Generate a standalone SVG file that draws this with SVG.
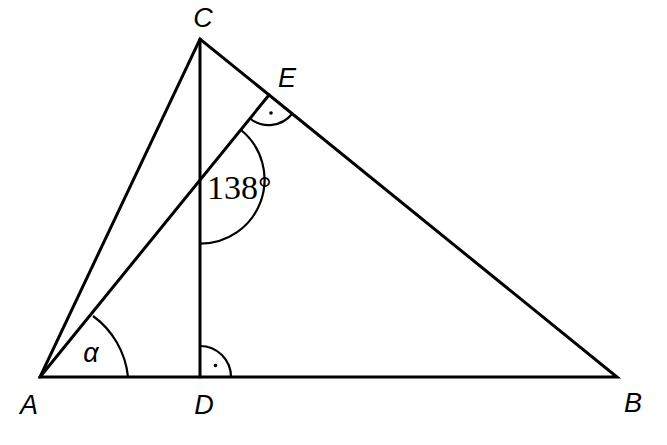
<svg xmlns="http://www.w3.org/2000/svg" width="667" height="445" viewBox="0 0 667 445">
<style>
.ln{stroke:#000;stroke-width:3;fill:none;stroke-linecap:round;stroke-linejoin:miter}
.arc{stroke:#000;stroke-width:2.2;fill:none}
.lbl{font-family:"Liberation Sans",Arial,sans-serif;font-style:italic;font-size:27px;fill:#000}
.num{font-family:"Liberation Serif","DejaVu Serif",serif;font-size:34px;fill:#000}
</style>
<rect width="667" height="445" fill="#fff"/>
<g id="connectors">
<path class="ln" d="M40 377 L617 377 L200 39 Z"/>
<line class="ln" x1="200" y1="39" x2="200" y2="377"/>
<line class="ln" x1="40" y1="377" x2="269" y2="95"/>
</g>
<g id="angles">
<path class="arc" d="M93 316 A86 86 0 0 1 128 377"/>
<path class="arc" d="M241 130 A64 64 0 0 1 200 243.6"/>
<path class="arc" d="M250 118.5 A30 30 0 0 0 292 114"/>
<path class="arc" d="M200 346 A31 31 0 0 1 231 377"/>
<circle cx="271" cy="113" r="1.8" fill="#000"/>
<circle cx="215.5" cy="365.5" r="1.8" fill="#000"/>
</g>
<g id="labels">
<text class="lbl" x="203" y="27" text-anchor="middle">C</text>
<text class="lbl" x="287" y="87" text-anchor="middle">E</text>
<text class="lbl" x="29" y="414" text-anchor="middle">A</text>
<text class="lbl" x="204" y="414" text-anchor="middle">D</text>
<text class="lbl" x="633" y="412" text-anchor="middle">B</text>
<text class="lbl" x="91" y="362" text-anchor="middle">α</text>
<text class="num" x="207" y="199">138°</text>
</g>
</svg>
